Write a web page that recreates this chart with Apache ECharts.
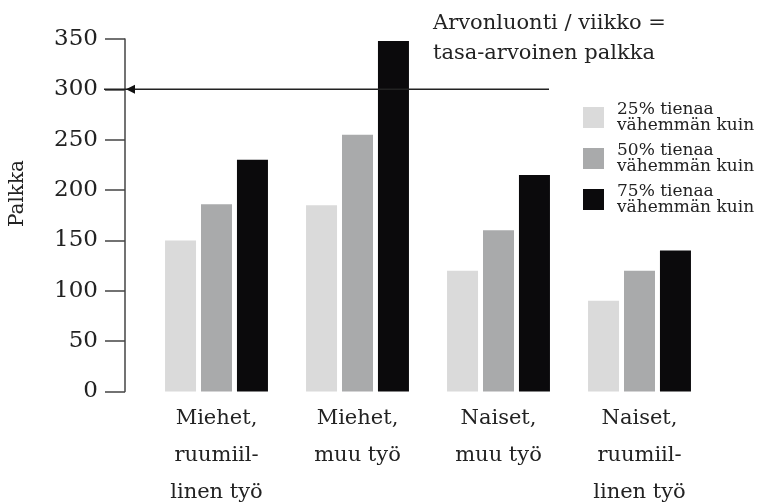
<!DOCTYPE html>
<html>
<head>
<meta charset="utf-8">
<script src="https://cdn.jsdelivr.net/npm/echarts@6/dist/echarts.min.js"></script>
<style>
  html, body { margin: 0; padding: 0; background: #fff; }
  #main { width: 758px; height: 502px; }
</style>
</head>
<body>
<div id="main"></div>
<script>
// data
var categories = ['Miehet,\nruumiil-\nlinen työ', 'Miehet,\nmuu työ', 'Naiset,\nmuu työ', 'Naiset,\nruumiil-\nlinen työ'];
var seriesNames = ['25% tienaa\nvähemmän kuin', '50% tienaa\nvähemmän kuin', '75% tienaa\nvähemmän kuin'];
var p25 = [150, 185, 120, 90];
var p50 = [186, 255, 160, 120];
var p75 = [230, 348, 215, 140];
var yTicks = [0, 50, 100, 150, 200, 250, 300, 350];
var refValue = 300;   // arvonluonti / viikko

var colors = ['#dadada', '#a9aaab', '#0b0a0c'];
var FONT = 'DejaVu Serif';

var chartDom = document.getElementById('main');
var myChart = echarts.init(chartDom);

var gridLeft = 146;
var axisOffset = 21;

var option = {
    animation: false,
    textStyle: { fontFamily: FONT },
    title: {
        text: 'Arvonluonti / viikko =\ntasa-arvoinen palkka',
        left: 428,
        top: 4,
        textStyle: { fontFamily: FONT, fontSize: 21, fontWeight: 'normal', color: '#222', lineHeight: 30 }
    },
    legend: {
        orient: 'vertical',
        left: 578,
        top: 96,
        itemWidth: 21,
        itemHeight: 21,
        itemGap: 8,
        icon: 'rect',
        textStyle: { fontFamily: FONT, fontSize: 17, color: '#222', lineHeight: 16, padding: [0, 0, 0, 8] }
    },
    grid: { left: gridLeft, right: 48, top: 39, bottom: 110.5, outerBoundsMode: 'none', containLabel: false },
    xAxis: {
        type: 'category',
        data: categories,
        axisLine: { show: false },
        axisTick: { show: false },
        axisLabel: { fontFamily: FONT, fontSize: 21, color: '#222', lineHeight: 37, margin: 9 }
    },
    yAxis: {
        type: 'value',
        min: yTicks[0],
        max: yTicks[yTicks.length - 1],
        interval: 50,
        offset: axisOffset,
        splitLine: { show: false },
        axisLine: { show: true, lineStyle: { color: '#444', width: 1.5 } },
        axisTick: { show: true, length: 20, lineStyle: { color: '#444', width: 1.5 } },
        axisLabel: { fontFamily: FONT, fontSize: 23, color: '#222', margin: 27 }
    },
    series: [
        { name: seriesNames[0], type: 'bar', data: p25, barWidth: 31, barGap: '16%', itemStyle: { color: colors[0] } },
        { name: seriesNames[1], type: 'bar', data: p50, barWidth: 31, barGap: '16%', itemStyle: { color: colors[1] } },
        { name: seriesNames[2], type: 'bar', data: p75, barWidth: 31, barGap: '16%', itemStyle: { color: colors[2] } }
    ]
};
myChart.setOption(option);

// nuoli ja viiva arvoon 300, y lasketaan akselilta
var yRef = myChart.convertToPixel({ yAxisIndex: 0 }, refValue);
var axisX = gridLeft - axisOffset;
myChart.setOption({
    graphic: [
        {
            type: 'text',
            left: 8,
            top: 160,
            rotation: Math.PI / 2,
            style: { text: 'Palkka', font: '20px "DejaVu Serif"', fill: '#222' }
        },
        {
            type: 'line',
            shape: { x1: axisX - 21, y1: yRef, x2: 549, y2: yRef },
            style: { stroke: '#222', lineWidth: 1.5 },
            z: 100
        },
        {
            type: 'polygon',
            shape: { points: [[axisX + 1, yRef], [axisX + 10, yRef - 4.5], [axisX + 10, yRef + 4.5]] },
            style: { fill: '#111' },
            z: 101
        }
    ]
});
</script>
</body>
</html>
